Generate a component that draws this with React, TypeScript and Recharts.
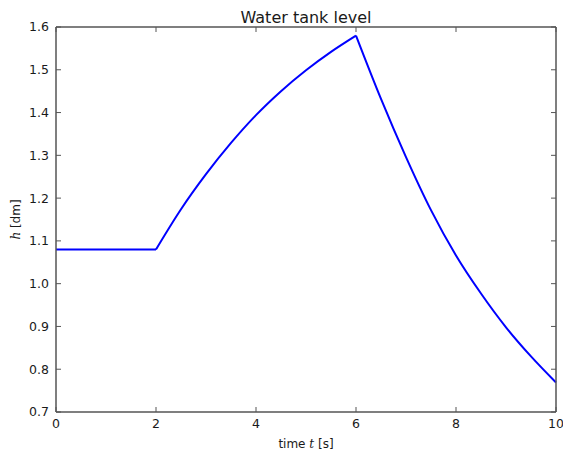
import React from "react";
import { LineChart, Line, XAxis, YAxis } from "recharts";

const flatTimes = [0, 2];
const flatLevel = [1.08, 1.08];

const riseTimes = [2, 2.5, 3, 3.5, 4, 4.5, 5, 5.5, 6];
const riseLevel = [1.08, 1.174, 1.256, 1.329, 1.394, 1.45, 1.499, 1.542, 1.58];

const fallTimes = [6, 6.5, 7, 7.5, 8, 8.5, 9, 9.5, 10];
const fallLevel = [1.58, 1.432, 1.296, 1.172, 1.066, 0.977, 0.898, 0.83, 0.769];

const xTicks = [0, 2, 4, 6, 8, 10];
const yTicks = [0.7, 0.8, 0.9, 1.0, 1.1, 1.2, 1.3, 1.4, 1.5, 1.6];

const toRows = (ts: number[], hs: number[]) => ts.map((t, i) => ({ t, h: hs[i] }));

const FONT = "DejaVu Sans, sans-serif";
const FRAME = "#555";
const TEXT = "#1a1a1a";

// tick marks only, no label
const NoLabel = () => <g />;

const YLabel = (props: any) => {
  const vb = props.viewBox || { x: 0, y: 27, width: 56, height: 385 };
  const cx = vb.x + 16;
  const cy = vb.y + vb.height / 2;
  return (
    <text
      x={cx}
      y={cy}
      transform={`rotate(-90 ${cx} ${cy})`}
      textAnchor="middle"
      dominantBaseline="central"
      fontFamily={FONT}
      fontSize={12}
      fill={TEXT}
    >
      <tspan fontStyle="italic" fontFamily="DejaVu Serif, serif">h</tspan>
      <tspan> [dm]</tspan>
    </text>
  );
};

const XLabel = (props: any) => {
  const vb = props.viewBox || { x: 56, y: 412, width: 500, height: 43 };
  return (
    <text
      x={vb.x + vb.width / 2}
      y={vb.y + 36}
      textAnchor="middle"
      fontFamily={FONT}
      fontSize={12}
      fill={TEXT}
    >
      <tspan>time </tspan>
      <tspan fontStyle="italic" fontFamily="DejaVu Serif, serif">t</tspan>
      <tspan> [s]</tspan>
    </text>
  );
};

export default function App() {
  const tickStyle = { fontFamily: FONT, fontSize: 12.5, fill: TEXT };
  const flatRows = toRows(flatTimes, flatLevel);
  return (
    <div
      style={{
        position: "absolute",
        left: 0,
        top: 0,
        width: 563,
        height: 455,
        background: "#fff",
      }}
    >
      <div
        style={{
          position: "absolute",
          left: 56,
          top: 8,
          width: 500,
          textAlign: "center",
          fontFamily: FONT,
          fontSize: 16,
          color: TEXT,
          lineHeight: "normal",
        }}
      >
        Water tank level
      </div>
      <LineChart width={563} height={455} margin={{ top: 27, right: 7, bottom: 0, left: 0 }}>
        <XAxis
          xAxisId={0}
          dataKey="t"
          type="number"
          domain={[0, 10]}
          ticks={xTicks}
          height={43}
          tickSize={0}
          tickMargin={7}
          tickLine={false}
          axisLine={{ stroke: FRAME, strokeWidth: 1.5 }}
          tick={tickStyle}
          label={<XLabel />}
        />
        <XAxis
          xAxisId="bm"
          dataKey="t"
          type="number"
          domain={[0, 10]}
          ticks={xTicks}
          orientation="bottom"
          mirror
          height={1}
          tickSize={5}
          tick={NoLabel}
          axisLine={false}
          tickLine={{ stroke: FRAME }}
        />
        <XAxis
          xAxisId="top"
          dataKey="t"
          type="number"
          domain={[0, 10]}
          ticks={xTicks}
          orientation="top"
          mirror
          height={1}
          tickSize={5}
          tick={NoLabel}
          axisLine={{ stroke: FRAME, strokeWidth: 1.5 }}
          tickLine={{ stroke: FRAME }}
        />
        <YAxis
          yAxisId={0}
          type="number"
          domain={[0.7, 1.6]}
          ticks={yTicks}
          width={56}
          tickSize={0}
          tickMargin={7}
          tickLine={false}
          axisLine={{ stroke: FRAME, strokeWidth: 1.5 }}
          tick={tickStyle}
          tickFormatter={(v: number) => v.toFixed(1)}
          label={<YLabel />}
        />
        <YAxis
          yAxisId="lm"
          type="number"
          domain={[0.7, 1.6]}
          ticks={yTicks}
          orientation="left"
          mirror
          width={1}
          tickSize={5}
          tick={NoLabel}
          axisLine={false}
          tickLine={{ stroke: FRAME }}
        />
        <YAxis
          yAxisId="right"
          type="number"
          domain={[0.7, 1.6]}
          ticks={yTicks}
          orientation="right"
          mirror
          width={1}
          tickSize={5}
          tick={NoLabel}
          axisLine={{ stroke: FRAME, strokeWidth: 1.5 }}
          tickLine={{ stroke: FRAME }}
        />
        {/* invisible series so the tick-only axes get a scale */}
        <Line
          xAxisId="bm"
          yAxisId="lm"
          data={flatRows}
          dataKey="h"
          stroke="none"
          dot={false}
          activeDot={false}
          legendType="none"
          isAnimationActive={false}
        />
        <Line
          xAxisId="top"
          yAxisId="right"
          data={flatRows}
          dataKey="h"
          stroke="none"
          dot={false}
          activeDot={false}
          legendType="none"
          isAnimationActive={false}
        />
        <Line
          data={flatRows}
          dataKey="h"
          type="linear"
          stroke="#0000ff"
          strokeWidth={2}
          dot={false}
          isAnimationActive={false}
        />
        <Line
          data={toRows(riseTimes, riseLevel)}
          dataKey="h"
          type="monotone"
          stroke="#0000ff"
          strokeWidth={2}
          dot={false}
          isAnimationActive={false}
        />
        <Line
          data={toRows(fallTimes, fallLevel)}
          dataKey="h"
          type="monotone"
          stroke="#0000ff"
          strokeWidth={2}
          dot={false}
          isAnimationActive={false}
        />
      </LineChart>
    </div>
  );
}
